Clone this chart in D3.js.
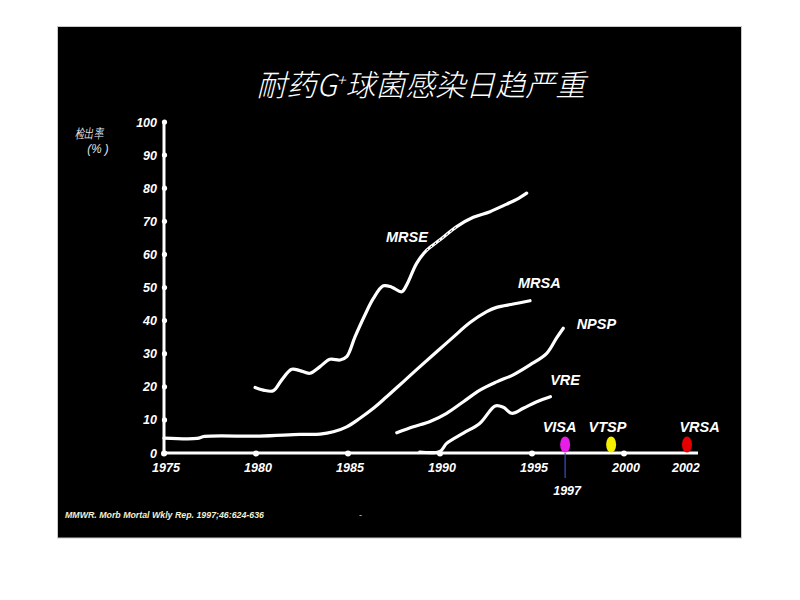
<!DOCTYPE html>
<html>
<head>
<meta charset="utf-8">
<script src="https://cdn.jsdelivr.net/npm/d3@7"></script>
<style>
  body { margin: 0; background: #fff; }
  text { font-family: "Liberation Sans", Arial, sans-serif; }
</style>
</head>
<body>
<svg id="chart" width="800" height="600"></svg>
<script>
// data: [year, percent]
const mrse = [[1979.95,19.8],[1980.4,19.0],[1980.94,18.8],[1981.4,22.1],[1981.94,25.3],[1982.39,24.9],[1982.93,24.1],[1983.48,26.1],[1984.02,28.3],[1984.57,28.1],[1984.93,29.1],[1985.38,35.1],[1985.92,41.7],[1986.38,46.7],[1986.92,50.5],[1987.38,50.1],[1987.92,48.7],[1988.19,50.8],[1988.73,57.3],[1989.28,61.3],[1990.0,64.4],[1990.91,68.4],[1991.81,71.2],[1992.72,72.9],[1993.63,75.2],[1994.17,76.6],[1994.71,78.5]];
const mrsa = [[1975,4.5],[1976.8,4.4],[1977.2,5.0],[1980.2,5.1],[1982.4,5.6],[1983.48,5.7],[1984.2,6.4],[1984.93,7.9],[1985.65,10.5],[1986.38,13.5],[1987.1,17.0],[1988.0,21.5],[1988.91,26.1],[1989.82,30.6],[1990.72,35.0],[1991.63,39.4],[1992.54,42.7],[1993.08,44.0],[1993.98,45.0],[1994.89,46.0]];
const npsp = [[1987.65,6.1],[1988.55,7.9],[1989.46,9.5],[1990.36,12.0],[1991.27,15.5],[1992.17,19.0],[1993.08,21.5],[1993.98,23.6],[1994.89,26.6],[1995.8,30.1],[1996.33,34.7],[1996.7,37.7]];
const vre = [[1988.9,0.3],[1990.0,0.5],[1990.36,2.9],[1991.27,6.0],[1992.17,9.0],[1993.0,14.2],[1993.44,13.8],[1993.9,12.0],[1994.53,13.5],[1995.26,15.5],[1996.0,17.0]];

const seriesNames = ["MRSE", "MRSA", "NPSP", "VRE"];
const labelPos = [[1988.2, 63.7], [1995.4, 49.8], [1998.5, 37.5], [1996.8, 20.5]]; // [year, percent] of label centre/baseline

const markerNames = ["VISA", "VTSP", "VRSA"];
const markerYears = [1996.8, 1999.3, 2002.0];
const markerLabelYears = [1996.5, 1999.1, 2002.4];
const markerColors = ["#e81ee8", "#f4f000", "#e40000"];

const xTicks = [1975, 1980, 1985, 1990, 1995, 2000];
const xTickLabels = ["1975", "1980", "1985", "1990", "1995", "2000", "2002"];
const xLabelYears = [1975, 1980, 1985, 1990, 1995, 2000, 2001.9];
const yTicks = d3.range(0, 101, 10);

const svg = d3.select("#chart");

// slide panel
svg.append("rect")
  .attr("x", 57.5).attr("y", 26.5).attr("width", 684).attr("height", 511.5)
  .attr("fill", "#000").attr("stroke", "#c8c8c8");

// the slide stretches the axis after 2000
const x = d3.scaleLinear().domain([1975, 2000, 2002]).range([164, 624, 687]);
const y = d3.scaleLinear().domain([0, 100]).range([453, 122]);

// title
svg.append("text")
  .attr("x", 421).attr("y", 96)
  .attr("text-anchor", "middle")
  .attr("fill", "#fff")
  .style("font-family", "'Noto Sans CJK SC', sans-serif")
  .style("font-weight", 300)
  .style("font-style", "italic")
  .style("font-size", "30px")
  .call(t => {
    t.append("tspan").text("耐药G");
    t.append("tspan").text("+").attr("dy", -10).style("font-size", "16px");
    t.append("tspan").text("球菌感染日趋严重").attr("dy", 10);
  });

// y label (condensed like the slide)
const ylab = svg.append("g")
  .attr("fill", "#e6e6e6")
  .style("font-family", "'Noto Sans CJK SC', sans-serif")
  .style("font-style", "italic")
  .style("font-weight", 300)
  .style("font-size", "13px");
ylab.append("text").attr("transform", "translate(89,138) scale(0.72,1)")
  .attr("text-anchor", "middle").text("检出率");
ylab.append("text").attr("transform", "translate(98,153) scale(0.9,1)")
  .attr("text-anchor", "middle").text("(% )");

// axes
const axis = svg.append("g");
axis.append("line")
  .attr("x1", x(1975)).attr("x2", x(2002.35))
  .attr("y1", y(0)).attr("y2", y(0))
  .attr("stroke", "#fff").attr("stroke-width", 3);
axis.append("line")
  .attr("x1", x(1975)).attr("x2", x(1975))
  .attr("y1", y(0)).attr("y2", y(100))
  .attr("stroke", "#fff").attr("stroke-width", 3);

axis.selectAll(".ydot").data(yTicks).join("circle")
  .attr("cx", x(1975) + 0.5).attr("cy", d => y(d)).attr("r", 2.6).attr("fill", "#fff");
axis.selectAll(".xdot").data(xTicks).join("circle")
  .attr("cx", d => x(d)).attr("cy", y(0) + 0.5).attr("r", 3).attr("fill", "#fff");

const tickFont = sel => sel
  .attr("fill", "#fff")
  .style("font-weight", "bold")
  .style("font-style", "italic")
  .style("font-size", "12.5px");

axis.selectAll(".ylab").data(yTicks).join("text")
  .attr("x", 157).attr("y", d => y(d) + 4.5)
  .attr("text-anchor", "end")
  .text(d => d)
  .call(tickFont);

axis.selectAll(".xlab").data(xTickLabels).join("text")
  .attr("x", (d, i) => x(xLabelYears[i]) + 2)
  .attr("y", 472)
  .attr("text-anchor", "middle")
  .text(d => d)
  .call(tickFont);

// curves
const line = d3.line()
  .x(d => x(d[0]))
  .y(d => y(d[1]))
  .curve(d3.curveCatmullRom.alpha(0.5));

svg.append("g").selectAll("path")
  .data([mrse, mrsa, npsp, vre]).join("path")
  .attr("d", line)
  .attr("fill", "none")
  .attr("stroke", "#fff")
  .attr("stroke-width", 3.2)
  .attr("stroke-linecap", "round")
  .attr("stroke-linejoin", "round");

// small speckled flaw on the MRSE line next to its label
svg.append("path")
  .attr("d", line(mrse.filter(d => d[0] > 1989.2 && d[0] < 1991)))
  .attr("fill", "none")
  .attr("stroke", "#000")
  .attr("stroke-width", 1)
  .attr("stroke-dasharray", "1.5 3.5");

svg.append("g").selectAll("text")
  .data(seriesNames).join("text")
  .attr("x", (d, i) => x(labelPos[i][0]))
  .attr("y", (d, i) => y(labelPos[i][1]))
  .attr("text-anchor", "middle")
  .text(d => d)
  .call(tickFont)
  .style("font-size", "14.5px");

// 1997 marker line
svg.append("line")
  .attr("x1", x(markerYears[0])).attr("x2", x(markerYears[0]))
  .attr("y1", y(0)).attr("y2", 478)
  .attr("stroke", "#3850c8").attr("stroke-width", 1.2);
svg.append("text")
  .attr("x", x(markerYears[0]) + 2).attr("y", 495)
  .attr("text-anchor", "middle")
  .text("1997")
  .call(tickFont);

// strain markers
const marks = svg.append("g");
marks.selectAll("ellipse").data(markerYears).join("ellipse")
  .attr("cx", d => x(d)).attr("cy", y(0) - 8.5)
  .attr("rx", 5).attr("ry", 8)
  .attr("fill", (d, i) => markerColors[i]);
marks.selectAll("text").data(markerNames).join("text")
  .attr("x", (d, i) => x(markerLabelYears[i]))
  .attr("y", 431.5)
  .attr("text-anchor", "middle")
  .text(d => d)
  .call(tickFont)
  .style("font-size", "14.5px");

// reference
svg.append("text")
  .attr("x", 65).attr("y", 518)
  .attr("fill", "#f2f0d2")
  .style("font-weight", "bold")
  .style("font-style", "italic")
  .style("font-size", "8.8px")
  .text("MMWR. Morb Mortal Wkly Rep. 1997;46:624-636");
svg.append("text")
  .attr("x", 359).attr("y", 518)
  .attr("fill", "#ddd")
  .style("font-size", "9px")
  .text("-");
</script>
</body>
</html>
